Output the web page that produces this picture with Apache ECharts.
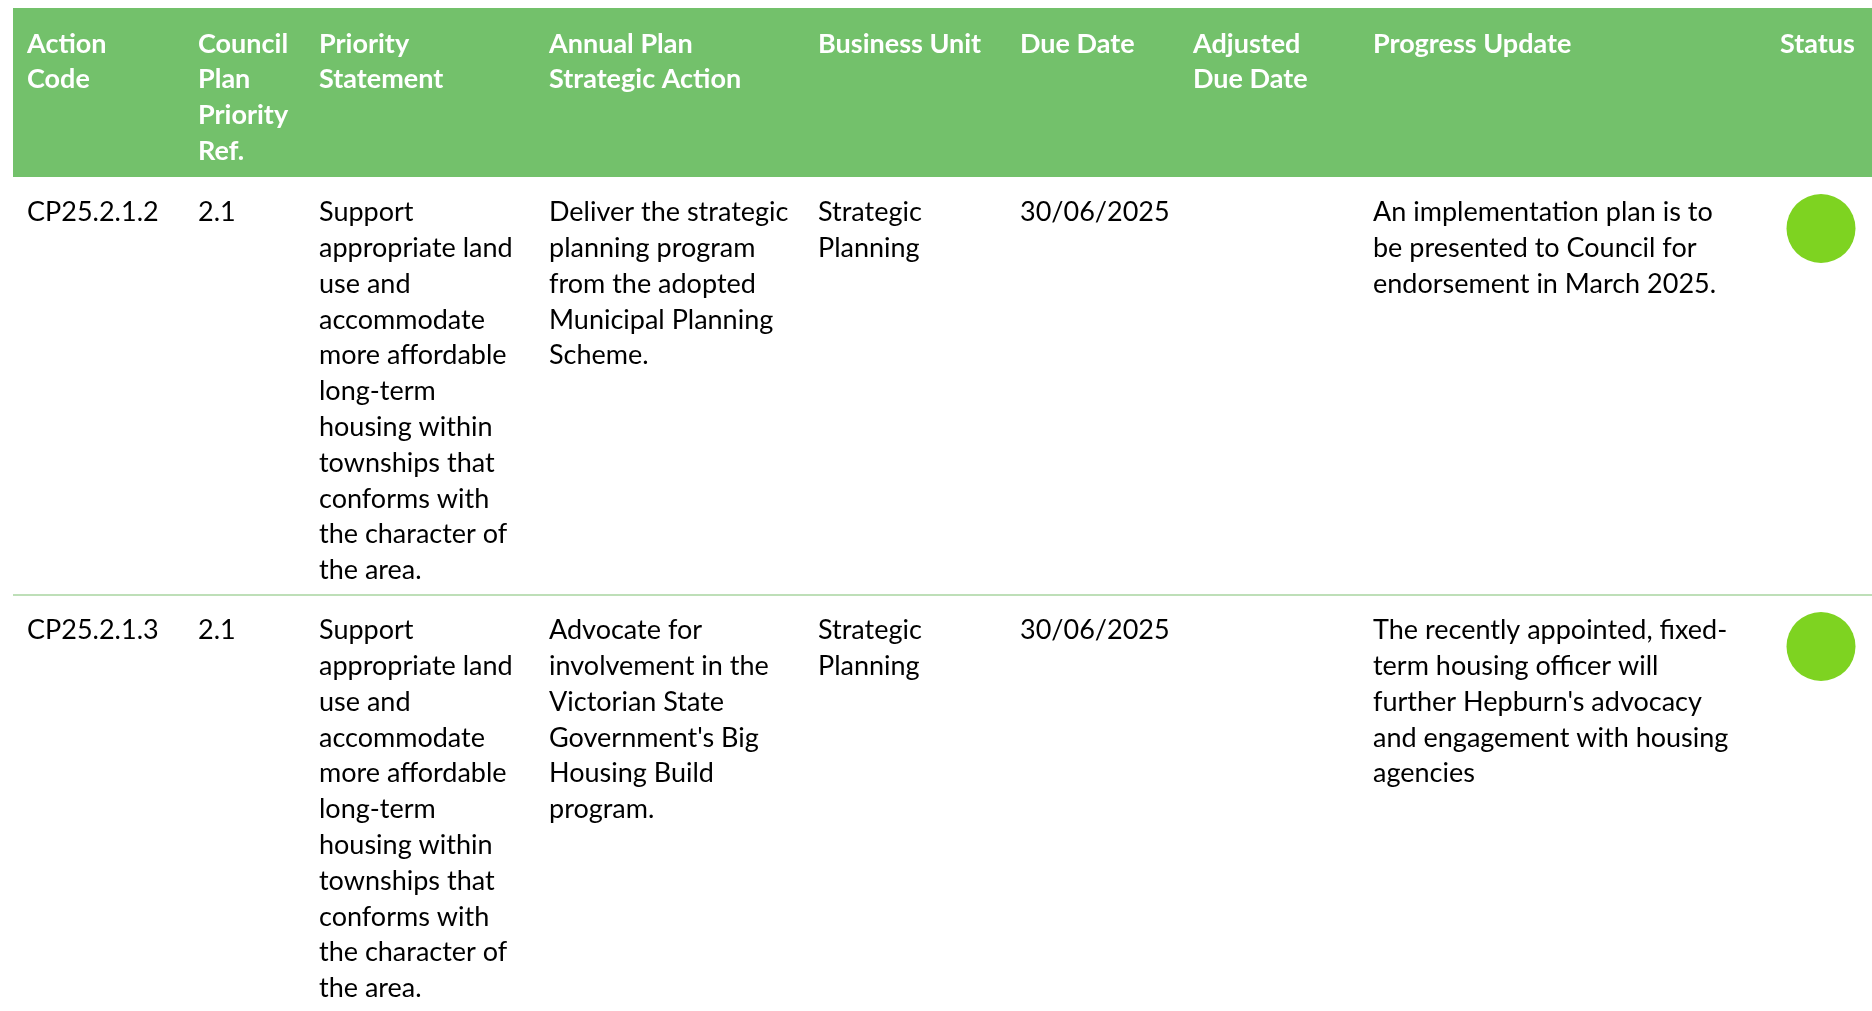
<!DOCTYPE html>
<html>
<head>
<meta charset="utf-8">
<style>
html,body{margin:0;padding:0;background:#fff;}
#chart{width:1872px;height:1011px;}
</style>
<script src="https://cdn.jsdelivr.net/npm/echarts@6/dist/echarts.min.js"></script>
</head>
<body>
<div id="chart"></div>
<script>
// ---- Data ----
const HEADERS = ["Action\nCode", "Council\nPlan\nPriority\nRef.", "Priority\nStatement", "Annual Plan\nStrategic Action", "Business Unit", "Due Date", "Adjusted\nDue Date", "Progress Update", "Status"];
const ACTION_CODES = ["CP25.2.1.2", "CP25.2.1.3"];
const PRIORITY_REFS = ["2.1", "2.1"];
const PRIORITY_STATEMENTS = [
  "Support\nappropriate land\nuse and\naccommodate\nmore affordable\nlong-term\nhousing within\ntownships that\nconforms with\nthe character of\nthe area.",
  "Support\nappropriate land\nuse and\naccommodate\nmore affordable\nlong-term\nhousing within\ntownships that\nconforms with\nthe character of\nthe area."
];
const STRATEGIC_ACTIONS = [
  "Deliver the strategic\nplanning program\nfrom the adopted\nMunicipal Planning\nScheme.",
  "Advocate for\ninvolvement in the\nVictorian State\nGovernment's Big\nHousing Build\nprogram."
];
const BUSINESS_UNITS = ["Strategic\nPlanning", "Strategic\nPlanning"];
const DUE_DATES = ["30/06/2025", "30/06/2025"];
const ADJUSTED_DUE_DATES = ["", ""];
const PROGRESS_UPDATES = [
  "An implementation plan is to\nbe presented to Council for\nendorsement in March 2025.",
  "The recently appointed, fixed-\nterm housing officer will\nfurther Hepburn's advocacy\nand engagement with housing\nagencies"
];
const STATUSES = ["on track", "on track"];

// ---- Layout / style ----
const W = 1872, H = 1011;
const L = {
  left: 13, headerTop: 8, headerBottom: 177,
  colX: [27, 198, 319, 549, 818, 1020, 1193, 1373, 1780],
  lineH: 35.8, headerTextTop: 26, padTop: 17.5, padBottom: 6.7,
  statusCX: 1821, statusCYOff: 51.5, statusR: 34.5
};
const STATUS_COLORS = {"on track": "#7ED321"};
const FONT = "Lato";
const FS = 27;

const rows = ACTION_CODES.map((c, i) => [c, PRIORITY_REFS[i], PRIORITY_STATEMENTS[i], STRATEGIC_ACTIONS[i], BUSINESS_UNITS[i], DUE_DATES[i], ADJUSTED_DUE_DATES[i], PROGRESS_UPDATES[i]]);
const rowTops = [];
let acc = L.headerBottom;
rows.forEach(r => {
  rowTops.push(acc);
  const maxLines = Math.max(...r.map(t => t ? t.split("\n").length : 1));
  acc += L.padTop + maxLines * L.lineH + L.padBottom;
});

const chart = echarts.init(document.getElementById('chart'), null, {renderer: 'canvas'});
chart.setOption({
  backgroundColor: '#ffffff',
  animation: false,
  grid: {left: 0, right: 0, top: 0, bottom: 0},
  xAxis: {type: 'value', min: 0, max: W, show: false},
  yAxis: {type: 'value', min: 0, max: H, inverse: true, show: false},
  series: [
    {
      type: 'custom', clip: false, silent: true,
      data: [[0, 0]],
      renderItem: function (params, api) {
        const tl = api.coord([L.left, L.headerTop]);
        const br = api.coord([W, L.headerBottom]);
        const children = [{type: 'rect', shape: {x: tl[0], y: tl[1], width: br[0] - tl[0], height: br[1] - tl[1]}, style: {fill: '#73C16B'}}];
        HEADERS.forEach((h, c) => {
          const p = api.coord([L.colX[c], L.headerTextTop]);
          children.push({type: 'text', x: p[0], y: p[1], style: {text: h, fill: '#ffffff', font: 'bold ' + FS + 'px ' + FONT, lineHeight: L.lineH, verticalAlign: 'top', align: 'left'}});
        });
        return {type: 'group', children};
      }
    },
    {
      type: 'custom', clip: false, silent: true,
      data: rows.map((r, i) => [i, rowTops[i]]),
      renderItem: function (params, api) {
        const i = api.value(0);
        const top = api.value(1);
        const r = rows[i];
        const children = [];
        r.forEach((t, c) => {
          if (!t) return;
          const p = api.coord([L.colX[c], top + L.padTop]);
          children.push({type: 'text', x: p[0], y: p[1], style: {text: t, fill: '#000000', font: FS + 'px ' + FONT, lineHeight: L.lineH, verticalAlign: 'top', align: 'left'}});
        });
        const cc = api.coord([L.statusCX, top + L.statusCYOff]);
        children.push({type: 'circle', shape: {cx: cc[0], cy: cc[1], r: L.statusR}, style: {fill: STATUS_COLORS[STATUSES[i]]}});
        if (i < rows.length - 1) {
          const nextTop = rowTops[i + 1];
          const a = api.coord([L.left, nextTop]);
          const b = api.coord([W, nextTop]);
          children.push({type: 'line', shape: {x1: a[0], y1: a[1], x2: b[0], y2: b[1]}, style: {stroke: '#A8D5A0', lineWidth: 1.5}});
        }
        return {type: 'group', children};
      }
    }
  ]
});
</script>
</body>
</html>
